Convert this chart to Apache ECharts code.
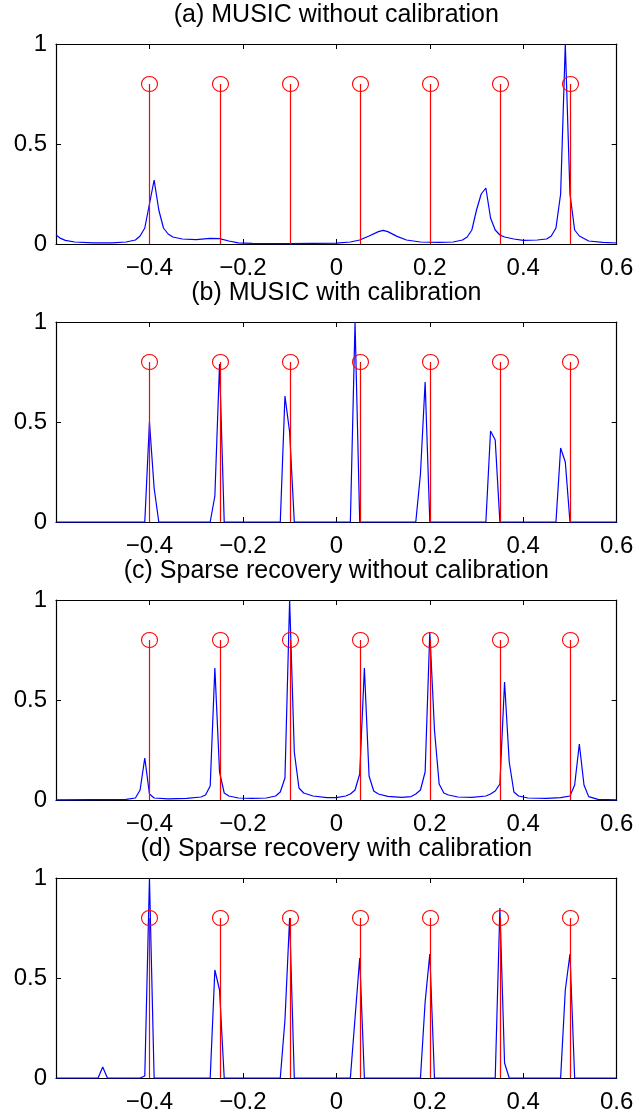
<!DOCTYPE html>
<html>
<head>
<meta charset="utf-8">
<script src="https://cdn.jsdelivr.net/npm/echarts@6/dist/echarts.min.js"></script>
<style>
html,body{margin:0;padding:0;background:#fff;}
#chart{width:637px;height:1116px;}
</style>
</head>
<body>
<div id="chart"></div>
<script>
// ---------------- data ----------------
const panelTitles = [
  '(a) MUSIC without calibration',
  '(b) MUSIC with calibration',
  '(c) Sparse recovery without calibration',
  '(d) Sparse recovery with calibration'
];
const xTicks = [-0.6, -0.4, -0.2, 0, 0.2, 0.4, 0.6];
const yTicks = [0, 0.5, 1];

// true directions (red stems)
const stemX = [-0.4, -0.25, -0.1, 0.05, 0.2, 0.35, 0.5];
const stemY = [0.8, 0.8, 0.8, 0.8, 0.8, 0.8, 0.8];

// (a) MUSIC without calibration
const musicNoCalX = [-0.60,-0.59,-0.58,-0.56,-0.52,-0.48,-0.45,-0.43,-0.42,-0.41,-0.40,-0.39,-0.38,-0.37,-0.36,-0.35,-0.33,-0.30,-0.27,-0.25,-0.23,-0.21,-0.18,-0.10,0.00,0.03,0.05,0.07,0.09,0.10,0.11,0.13,0.15,0.18,0.22,0.25,0.27,0.28,0.29,0.30,0.31,0.32,0.33,0.34,0.35,0.36,0.38,0.40,0.43,0.45,0.46,0.47,0.48,0.49,0.50,0.51,0.52,0.54,0.57,0.60];
const musicNoCalY = [0.045,0.028,0.018,0.010,0.006,0.006,0.010,0.020,0.040,0.080,0.20,0.32,0.17,0.080,0.050,0.035,0.025,0.022,0.028,0.027,0.015,0.006,0.003,0.002,0.004,0.010,0.020,0.040,0.062,0.068,0.062,0.038,0.020,0.010,0.008,0.010,0.020,0.035,0.070,0.17,0.25,0.28,0.13,0.070,0.045,0.035,0.025,0.018,0.020,0.025,0.040,0.080,0.25,1.00,0.25,0.070,0.040,0.015,0.008,0.005];

// (b) MUSIC with calibration
const musicCalX = [-0.60,-0.41,-0.40,-0.39,-0.38,-0.27,-0.26,-0.25,-0.24,-0.12,-0.11,-0.10,-0.09,0.03,0.04,0.05,0.17,0.18,0.19,0.20,0.32,0.33,0.34,0.35,0.47,0.48,0.49,0.50,0.60];
const musicCalY = [0,0,0.50,0.17,0,0,0.13,0.79,0,0,0.63,0.45,0,0,1.00,0,0,0.24,0.70,0,0,0.455,0.41,0,0,0.37,0.30,0,0];

// (c) Sparse recovery without calibration
const sparseNoCalX = [-0.60,-0.45,-0.43,-0.42,-0.41,-0.40,-0.39,-0.36,-0.32,-0.29,-0.28,-0.27,-0.26,-0.25,-0.24,-0.23,-0.21,-0.18,-0.15,-0.13,-0.12,-0.11,-0.10,-0.09,-0.08,-0.07,-0.05,-0.02,0.00,0.02,0.03,0.04,0.05,0.06,0.07,0.08,0.09,0.11,0.14,0.16,0.17,0.18,0.19,0.20,0.21,0.22,0.23,0.24,0.26,0.29,0.32,0.33,0.34,0.35,0.36,0.37,0.38,0.39,0.41,0.45,0.48,0.50,0.51,0.52,0.53,0.54,0.56,0.60];
const sparseNoCalY = [0.001,0.003,0.010,0.050,0.21,0.030,0.010,0.006,0.008,0.015,0.025,0.070,0.66,0.14,0.035,0.020,0.010,0.008,0.010,0.020,0.040,0.11,1.00,0.24,0.060,0.035,0.020,0.012,0.012,0.020,0.030,0.050,0.13,0.66,0.12,0.045,0.030,0.018,0.013,0.017,0.030,0.050,0.14,0.84,0.35,0.080,0.035,0.025,0.015,0.013,0.020,0.030,0.045,0.080,0.59,0.19,0.040,0.020,0.010,0.008,0.012,0.020,0.075,0.28,0.075,0.017,0.003,0.001];

// (d) Sparse recovery with calibration
const sparseCalX = [-0.60,-0.51,-0.50,-0.49,-0.42,-0.41,-0.40,-0.39,-0.27,-0.26,-0.25,-0.24,-0.12,-0.11,-0.10,-0.09,0.03,0.04,0.05,0.06,0.18,0.19,0.20,0.21,0.34,0.35,0.36,0.37,0.48,0.49,0.50,0.51,0.60];
const sparseCalY = [0,0,0.055,0,0,0.01,1.00,0,0,0.54,0.44,0,0,0.29,0.80,0,0,0.30,0.60,0,0,0.38,0.62,0,0,0.85,0.075,0,0,0.44,0.62,0,0];

const curvesX = [musicNoCalX, musicCalX, sparseNoCalX, sparseCalX];
const curvesY = [musicNoCalY, musicCalY, sparseNoCalY, sparseCalY];

// ---------------- layout ----------------
const FONT = '"Liberation Sans", Arial, Helvetica, sans-serif';
const gridLeft = 56, gridRight = 20.3, gridH = 200;
const gridTops = [44, 322, 600, 878];
const plotCenterX = gridLeft + (637 - gridLeft - gridRight) / 2;

function fmtNum(v) {
  const a = Math.abs(v);
  const s = a < 1e-9 ? '0' : (Math.abs(a - Math.round(a)) < 1e-9 ? String(Math.round(a)) : a.toFixed(1));
  return (v < -1e-9 ? '\u2212' : '') + s;
}

const grid = [], xAxis = [], yAxis = [], series = [], title = [];
const axisLine = { show: true, onZero: false, lineStyle: { color: '#000', width: 1.2 } };
const tick = { show: true, inside: true, length: 5, lineStyle: { color: '#000', width: 1 } };

gridTops.forEach((top, i) => {
  grid.push({ left: gridLeft, right: gridRight, top: top, height: gridH, containLabel: false });
  title.push({
    text: panelTitles[i], left: plotCenterX, top: top - 41, textAlign: 'center', padding: 0,
    textStyle: { fontSize: 25, fontWeight: 'normal', fontFamily: FONT, color: '#000' }
  });
  const xBase = { type: 'value', gridIndex: i, min: xTicks[0], max: xTicks[xTicks.length - 1], interval: 0.2,
    splitLine: { show: false }, axisLine: axisLine, axisTick: tick };
  xAxis.push(Object.assign({}, xBase, { position: 'bottom',
    axisLabel: { show: true, fontSize: 24, fontFamily: FONT, color: '#000', margin: 12,
      showMinLabel: true, showMaxLabel: true,
      formatter: v => (Math.abs(v - xTicks[0]) < 1e-9 ? '' : fmtNum(v)) } }));
  xAxis.push(Object.assign({}, xBase, { position: 'top', axisLabel: { show: false } }));
  const yBase = { type: 'value', gridIndex: i, min: yTicks[0], max: yTicks[yTicks.length - 1], interval: 0.5,
    splitLine: { show: false }, axisLine: axisLine, axisTick: tick };
  yAxis.push(Object.assign({}, yBase, { position: 'left',
    axisLabel: { show: true, fontSize: 24, fontFamily: FONT, color: '#000', margin: 9, formatter: v => fmtNum(v) } }));
  yAxis.push(Object.assign({}, yBase, { position: 'right', axisLabel: { show: false } }));

  series.push({
    type: 'line', xAxisIndex: 2 * i, yAxisIndex: 2 * i,
    data: curvesX[i].map((x, k) => [x, curvesY[i][k]]),
    showSymbol: false, symbol: 'none', smooth: false, clip: false,
    lineStyle: { color: '#0000ff', width: 1.2 }, z: 2
  });
  series.push({
    type: 'custom', xAxisIndex: 2 * i, yAxisIndex: 2 * i,
    data: stemX.map((x, k) => [x, stemY[k]]),
    z: 3,
    renderItem: (params, api) => {
      const x = api.value(0), h = api.value(1);
      const p0 = api.coord([x, 0]), p1 = api.coord([x, h]);
      const sx = Math.round(p0[0]) + 0.5;
      return { type: 'group', children: [
        { type: 'line', shape: { x1: sx, y1: p0[1], x2: sx, y2: p1[1] },
          style: { stroke: '#ff0000', lineWidth: 1.2 } },
        { type: 'ellipse', shape: { cx: sx, cy: p1[1], rx: 8, ry: 7.5 },
          style: { fill: 'none', stroke: '#ff0000', lineWidth: 1.1 } }
      ] };
    }
  });
});

const chart = echarts.init(document.getElementById('chart'), null, { renderer: 'canvas', width: 637, height: 1116 });
chart.setOption({
  animation: false,
  backgroundColor: '#fff',
  title: title, grid: grid, xAxis: xAxis, yAxis: yAxis, series: series
});
</script>
</body>
</html>
